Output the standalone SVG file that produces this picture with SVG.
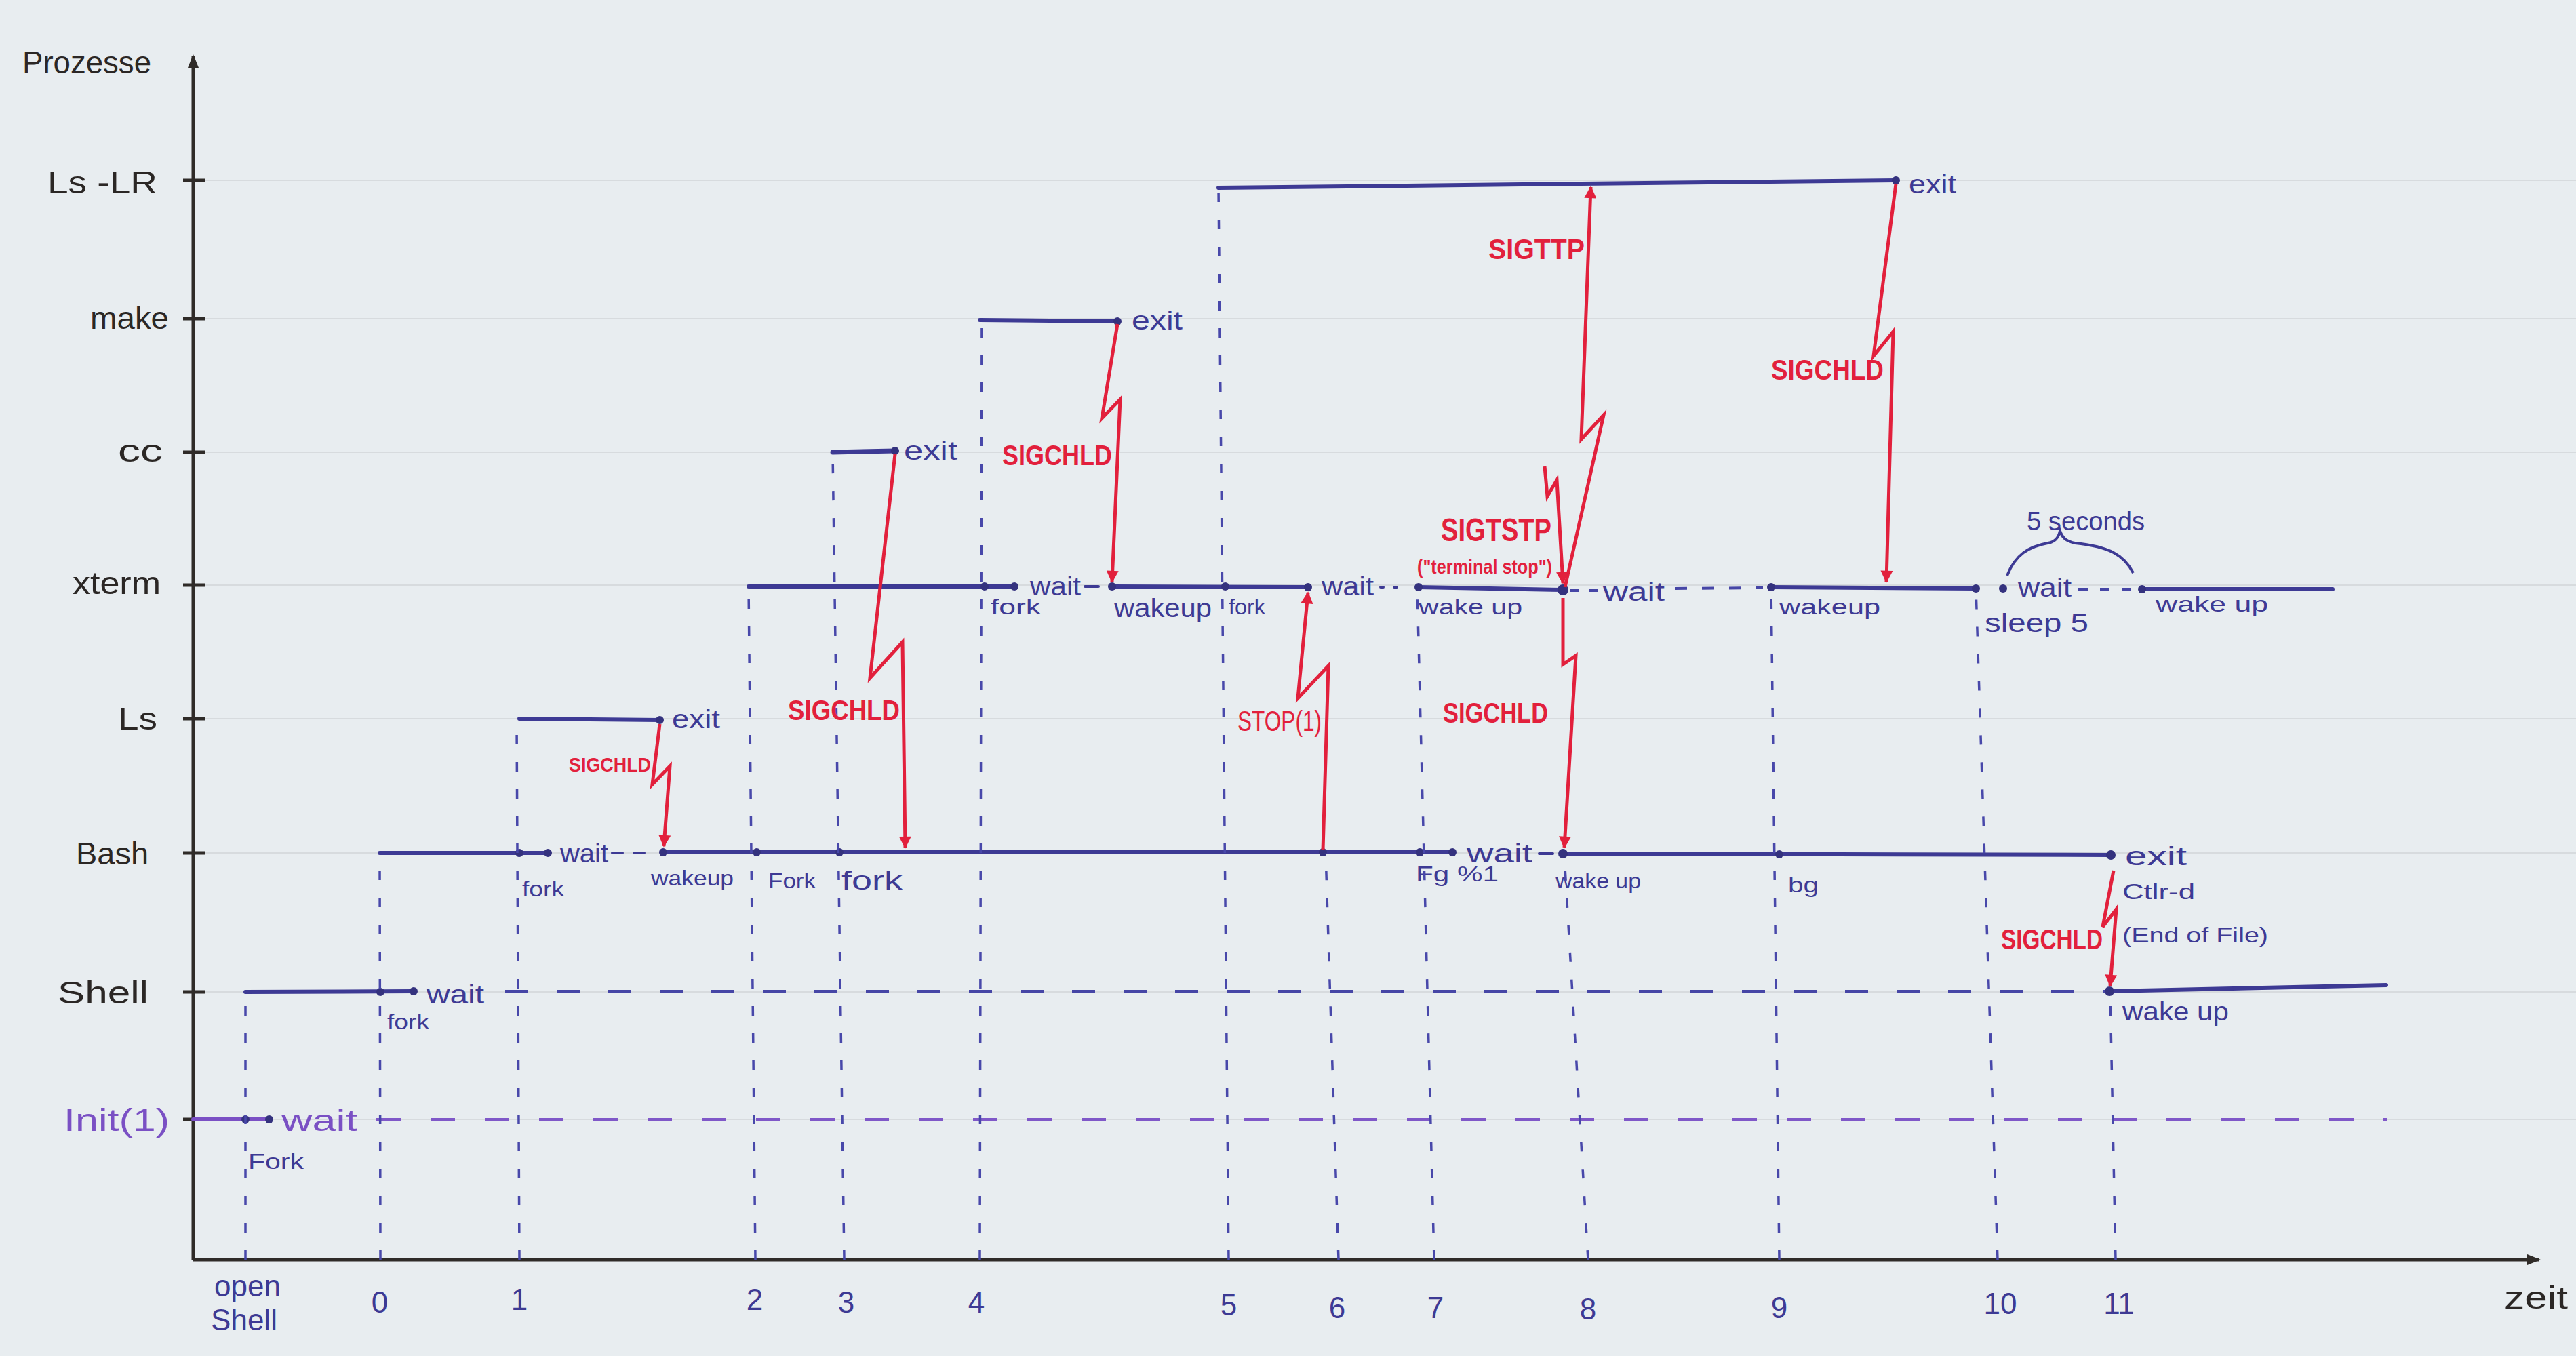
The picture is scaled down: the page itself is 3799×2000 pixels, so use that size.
<svg xmlns="http://www.w3.org/2000/svg" width="3799" height="2000" viewBox="0 0 3799 2000">
<defs>
<style>
.bg{fill:#e8edf0}
.rule{stroke:#d7dbde;stroke-width:2}
.ax{stroke:#2f2b28;stroke-width:5;fill:none}
.tk{stroke:#2f2b28;stroke-width:5}
.p{stroke:#3d3a94;stroke-width:6;fill:none;stroke-linecap:round}
.pd{stroke:#4646a6;stroke-width:4;fill:none;stroke-dasharray:34 42}
.ip{stroke:#7a50c4;stroke-width:6;fill:none;stroke-linecap:round}
.ipd{stroke:#7f58c8;stroke-width:4;fill:none;stroke-dasharray:36 44}
.v{stroke:#4848aa;stroke-width:3.5;fill:none;stroke-dasharray:14 26}
.sig{stroke:#e2203c;stroke-width:5;fill:none;stroke-linejoin:miter}
.dot{fill:#34327e}
text{font-family:"Liberation Sans","DejaVu Sans",sans-serif}
.yl{font-size:46px;fill:#2b2725}
.tl{font-size:44px;fill:#3d3a94}
.bl{font-size:38px;fill:#3d3a94}
.bs{font-size:32px;fill:#3d3a94}
.rd{font-size:42px;fill:#e2203c;font-weight:bold}
.rs{font-size:30px;fill:#e2203c;font-weight:bold}
.pu{fill:#7a50c4}
</style>
<marker id="ah" viewBox="0 0 10 10" refX="9" refY="5" markerWidth="24" markerHeight="18" markerUnits="userSpaceOnUse" orient="auto"><path d="M0,0 L10,5 L0,10 z" fill="#e2203c"/></marker>
<marker id="axa" viewBox="0 0 10 10" refX="9" refY="5" markerWidth="28" markerHeight="20" markerUnits="userSpaceOnUse" orient="auto"><path d="M0,1 L10,5 L0,9 z" fill="#2f2b28"/></marker>
</defs>
<rect class="bg" x="0" y="0" width="3799" height="2000"/>
<g id="paper-rules">
<line class="rule" x1="300" y1="266" x2="3799" y2="266"/>
<line class="rule" x1="300" y1="470" x2="3799" y2="470"/>
<line class="rule" x1="300" y1="667" x2="3799" y2="667"/>
<line class="rule" x1="300" y1="863" x2="3799" y2="863"/>
<line class="rule" x1="300" y1="1060" x2="3799" y2="1060"/>
<line class="rule" x1="300" y1="1258" x2="3799" y2="1258"/>
<line class="rule" x1="300" y1="1463" x2="3799" y2="1463"/>
<line class="rule" x1="300" y1="1651" x2="3799" y2="1651"/>
</g>
<g id="axes">
<line class="ax" x1="285" y1="1858" x2="285" y2="82" marker-end="url(#axa)"/>
<line class="ax" x1="285" y1="1858" x2="3745" y2="1858" marker-end="url(#axa)"/>
<line class="tk" x1="270" y1="266" x2="302" y2="266"/>
<line class="tk" x1="270" y1="470" x2="302" y2="470"/>
<line class="tk" x1="270" y1="667" x2="302" y2="667"/>
<line class="tk" x1="270" y1="863" x2="302" y2="863"/>
<line class="tk" x1="270" y1="1060" x2="302" y2="1060"/>
<line class="tk" x1="270" y1="1258" x2="302" y2="1258"/>
<line class="tk" x1="270" y1="1463" x2="302" y2="1463"/>
<line class="tk" x1="270" y1="1651" x2="302" y2="1651"/>
<text class="yl" x="33" y="108" textLength="190" lengthAdjust="spacingAndGlyphs">Prozesse</text>
<text class="yl" x="3693" y="1930" textLength="94" lengthAdjust="spacingAndGlyphs">zeit</text>
<text class="tl" x="365" y="1912" text-anchor="middle">open</text>
<text class="tl" x="360" y="1962" text-anchor="middle">Shell</text>
<text class="tl" x="560" y="1936" text-anchor="middle">0</text>
<text class="tl" x="766" y="1932" text-anchor="middle">1</text>
<text class="tl" x="1113" y="1932" text-anchor="middle">2</text>
<text class="tl" x="1248" y="1936" text-anchor="middle">3</text>
<text class="tl" x="1440" y="1936" text-anchor="middle">4</text>
<text class="tl" x="1812" y="1940" text-anchor="middle">5</text>
<text class="tl" x="1972" y="1944" text-anchor="middle">6</text>
<text class="tl" x="2117" y="1944" text-anchor="middle">7</text>
<text class="tl" x="2342" y="1946" text-anchor="middle">8</text>
<text class="tl" x="2624" y="1944" text-anchor="middle">9</text>
<text class="tl" x="2950" y="1938" text-anchor="middle">10</text>
<text class="tl" x="3125" y="1938" text-anchor="middle">11</text>
</g>
<g id="node-init">
<text class="yl pu" x="94" y="1668" textLength="156" lengthAdjust="spacingAndGlyphs">Init(1)</text>
<line class="ip" x1="285" y1="1651" x2="397" y2="1651"/>
<line class="ipd" x1="555" y1="1651" x2="3520" y2="1651"/>
<circle class="dot" cx="362" cy="1651" r="6"/>
<circle class="dot" cx="397" cy="1651" r="6"/>
<text class="tl pu" x="415" y="1668" textLength="112" lengthAdjust="spacingAndGlyphs">wait</text>
<text class="bs" x="366" y="1724" textLength="82" lengthAdjust="spacingAndGlyphs">Fork</text>
</g>
<g id="node-shell">
<text class="yl" x="85" y="1480" textLength="134" lengthAdjust="spacingAndGlyphs">Shell</text>
<line class="p" x1="362" y1="1463" x2="610" y2="1462"/>
<line class="pd" x1="745" y1="1462" x2="3105" y2="1462"/>
<line class="p" x1="3111" y1="1462" x2="3519" y2="1453"/>
<circle class="dot" cx="561" cy="1463" r="6"/>
<circle class="dot" cx="610" cy="1462" r="6"/>
<circle class="dot" cx="3111" cy="1462" r="7"/>
<text class="bl" x="629" y="1480" textLength="85" lengthAdjust="spacingAndGlyphs">wait</text>
<text class="bs" x="571" y="1518" textLength="62" lengthAdjust="spacingAndGlyphs">fork</text>
<text class="bl" x="3130" y="1505" textLength="157" lengthAdjust="spacingAndGlyphs">wake up</text>
</g>
<g id="node-bash">
<text class="yl" x="112" y="1275" textLength="107" lengthAdjust="spacingAndGlyphs">Bash</text>
<line class="p" x1="560" y1="1258" x2="808" y2="1258"/>
<line class="p" x1="903" y1="1258" x2="918" y2="1258" style="stroke-width:4"/>
<line class="p" x1="935" y1="1258" x2="950" y2="1258" style="stroke-width:4"/>
<line class="p" x1="978" y1="1257" x2="2142" y2="1257"/>
<line class="p" x1="2270" y1="1259" x2="2290" y2="1259" style="stroke-width:4"/>
<line class="p" x1="2305" y1="1259" x2="3113" y2="1261"/>
<circle class="dot" cx="766" cy="1258" r="6"/>
<circle class="dot" cx="808" cy="1258" r="6"/>
<circle class="dot" cx="978" cy="1257" r="6"/>
<circle class="dot" cx="1116" cy="1257" r="6"/>
<circle class="dot" cx="1238" cy="1257" r="6"/>
<circle class="dot" cx="1951" cy="1257" r="6"/>
<circle class="dot" cx="2094" cy="1257" r="6"/>
<circle class="dot" cx="2142" cy="1257" r="6"/>
<circle class="dot" cx="2305" cy="1259" r="7"/>
<circle class="dot" cx="2624" cy="1260" r="6"/>
<circle class="dot" cx="3113" cy="1261" r="7"/>
<text class="bl" x="826" y="1272" textLength="71" lengthAdjust="spacingAndGlyphs">wait</text>
<text class="bs" x="770" y="1322" textLength="62" lengthAdjust="spacingAndGlyphs">fork</text>
<text class="bs" x="960" y="1306" textLength="122" lengthAdjust="spacingAndGlyphs">wakeup</text>
<text class="bs" x="1133" y="1310" textLength="70" lengthAdjust="spacingAndGlyphs">Fork</text>
<text class="bl" x="1241" y="1312" textLength="90" lengthAdjust="spacingAndGlyphs">fork</text>
<text class="bl" x="2163" y="1272" textLength="97" lengthAdjust="spacingAndGlyphs">wait</text>
<text class="bs" x="2088" y="1300" textLength="122" lengthAdjust="spacingAndGlyphs">Fg %1</text>
<text class="bs" x="2294" y="1310" textLength="126" lengthAdjust="spacingAndGlyphs">wake up</text>
<text class="bs" x="2637" y="1316" textLength="45" lengthAdjust="spacingAndGlyphs">bg</text>
<text class="bl" x="3134" y="1276" textLength="91" lengthAdjust="spacingAndGlyphs">exit</text>
<text class="bs" x="3130" y="1326" textLength="107" lengthAdjust="spacingAndGlyphs">Ctlr-d</text>
<text class="bs" x="3130" y="1390" textLength="215" lengthAdjust="spacingAndGlyphs">(End of File)</text>
</g>
<g id="node-ls">
<text class="yl" x="174" y="1076" textLength="58" lengthAdjust="spacingAndGlyphs">Ls</text>
<line class="p" x1="766" y1="1060" x2="973" y2="1062"/>
<circle class="dot" cx="973" cy="1062" r="6"/>
<text class="bl" x="991" y="1074" textLength="71" lengthAdjust="spacingAndGlyphs">exit</text>
</g>
<g id="node-xterm">
<text class="yl" x="107" y="876" textLength="130" lengthAdjust="spacingAndGlyphs">xterm</text>
<line class="p" x1="1104" y1="865" x2="1496" y2="865"/>
<line class="p" x1="1600" y1="865" x2="1620" y2="865" style="stroke-width:4"/>
<line class="p" x1="1640" y1="865" x2="1929" y2="866"/>
<line class="p" x1="2036" y1="866" x2="2040" y2="866" style="stroke-width:4"/>
<line class="p" x1="2056" y1="866" x2="2060" y2="866" style="stroke-width:4"/>
<line class="p" x1="2092" y1="866" x2="2305" y2="870"/>
<line class="pd" x1="2315" y1="871" x2="2360" y2="871" style="stroke-dasharray:14 14"/>
<line class="pd" x1="2470" y1="868" x2="2600" y2="867" style="stroke-dasharray:18 22"/>
<line class="p" x1="2612" y1="866" x2="2914" y2="868"/>
<line class="pd" x1="3065" y1="869" x2="3150" y2="869" style="stroke-dasharray:14 18"/>
<line class="p" x1="3159" y1="869" x2="3440" y2="869"/>
<circle class="dot" cx="1452" cy="865" r="6"/>
<circle class="dot" cx="1496" cy="865" r="6"/>
<circle class="dot" cx="1640" cy="865" r="6"/>
<circle class="dot" cx="1807" cy="865" r="6"/>
<circle class="dot" cx="1929" cy="866" r="6"/>
<circle class="dot" cx="2092" cy="866" r="6"/>
<circle class="dot" cx="2305" cy="870" r="8"/>
<circle class="dot" cx="2612" cy="866" r="6"/>
<circle class="dot" cx="2914" cy="868" r="6"/>
<circle class="dot" cx="2954" cy="868" r="6"/>
<circle class="dot" cx="3159" cy="869" r="6"/>
<text class="bl" x="1519" y="878" textLength="75" lengthAdjust="spacingAndGlyphs">wait</text>
<text class="bs" x="1461" y="906" textLength="74" lengthAdjust="spacingAndGlyphs">fork</text>
<text class="bl" x="1643" y="910" textLength="144" lengthAdjust="spacingAndGlyphs">wakeup</text>
<text class="bs" x="1812" y="906" textLength="54" lengthAdjust="spacingAndGlyphs">fork</text>
<text class="bl" x="1949" y="878" textLength="77" lengthAdjust="spacingAndGlyphs">wait</text>
<text class="bs" x="2092" y="906" textLength="153" lengthAdjust="spacingAndGlyphs">wake up</text>
<text class="bl" x="2364" y="886" textLength="91" lengthAdjust="spacingAndGlyphs">wait</text>
<text class="bs" x="2624" y="906" textLength="149" lengthAdjust="spacingAndGlyphs">wakeup</text>
<text class="bl" x="2976" y="880" textLength="79" lengthAdjust="spacingAndGlyphs">wait</text>
<text class="bl" x="2927" y="932" textLength="153" lengthAdjust="spacingAndGlyphs">sleep 5</text>
<text class="bs" x="3179" y="902" textLength="166" lengthAdjust="spacingAndGlyphs">wake up</text>
<path d="M2960,849 C2972,818 2992,806 3020,801 C3032,799 3036,792 3038,783 C3041,792 3046,798 3060,801 C3110,806 3132,818 3146,845" stroke="#3d3a94" stroke-width="4" fill="none"/>
<text class="bl" x="2989" y="782" textLength="174" lengthAdjust="spacingAndGlyphs">5 seconds</text>
</g>
<g id="node-cc">
<text class="yl" x="174" y="681" textLength="66" lengthAdjust="spacingAndGlyphs">cc</text>
<line class="p" x1="1228" y1="667" x2="1320" y2="665" style="stroke-width:7"/>
<circle class="dot" cx="1320" cy="665" r="6"/>
<text class="bl" x="1333" y="678" textLength="79" lengthAdjust="spacingAndGlyphs">exit</text>
</g>
<g id="node-make">
<text class="yl" x="133" y="485" textLength="116" lengthAdjust="spacingAndGlyphs">make</text>
<line class="p" x1="1445" y1="472" x2="1648" y2="474"/>
<circle class="dot" cx="1648" cy="474" r="6"/>
<text class="bl" x="1669" y="486" textLength="75" lengthAdjust="spacingAndGlyphs">exit</text>
</g>
<g id="node-lslr">
<text class="yl" x="70" y="285" textLength="162" lengthAdjust="spacingAndGlyphs">Ls -LR</text>
<line class="p" x1="1797" y1="277" x2="2796" y2="266"/>
<circle class="dot" cx="2796" cy="266" r="6"/>
<text class="bl" x="2815" y="285" textLength="70" lengthAdjust="spacingAndGlyphs">exit</text>
</g>
<g id="connectors">
<g id="forks">
<line class="v" x1="362" y1="1858" x2="362" y2="1463"/>
<line class="v" x1="561" y1="1858" x2="560" y2="1258"/>
<line class="v" x1="766" y1="1858" x2="762" y2="1060"/>
<line class="v" x1="1114" y1="1858" x2="1104" y2="865"/>
<line class="v" x1="1245" y1="1858" x2="1228" y2="667"/>
<line class="v" x1="1445" y1="1858" x2="1448" y2="472"/>
<line class="v" x1="1812" y1="1858" x2="1797" y2="277"/>
<line class="v" x1="1974" y1="1858" x2="1955" y2="1258"/>
<line class="v" x1="2115" y1="1858" x2="2090" y2="866"/>
<line class="v" x1="2342" y1="1858" x2="2307" y2="1262"/>
<line class="v" x1="2624" y1="1858" x2="2612" y2="866"/>
<line class="v" x1="2946" y1="1858" x2="2914" y2="868"/>
<line class="v" x1="3120" y1="1858" x2="3112" y2="1462"/>
</g>
<g id="signals">
<path class="sig" d="M973,1068 L962,1157 L988,1130 L979,1248" marker-end="url(#ah)"/>
<text class="rs" x="839" y="1138" textLength="121" lengthAdjust="spacingAndGlyphs">SIGCHLD</text>
<path class="sig" d="M1320,670 L1283,1000 L1331,947 L1335,1250" marker-end="url(#ah)"/>
<text class="rd" x="1162" y="1062" textLength="165" lengthAdjust="spacingAndGlyphs">SIGCHLD</text>
<path class="sig" d="M1648,478 L1625,617 L1652,589 L1640,858" marker-end="url(#ah)"/>
<text class="rd" x="1478" y="686" textLength="162" lengthAdjust="spacingAndGlyphs">SIGCHLD</text>
<path class="sig" d="M1951,1254 L1959,982 L1914,1030 L1929,874" marker-end="url(#ah)"/>
<text class="rd" x="1825" y="1078" textLength="124" lengthAdjust="spacingAndGlyphs" style="font-weight:normal">STOP(1)</text>
<path class="sig" d="M2796,271 L2763,525 L2792,489 L2782,858" marker-end="url(#ah)"/>
<text class="rd" x="2612" y="560" textLength="166" lengthAdjust="spacingAndGlyphs">SIGCHLD</text>
<path class="sig" d="M2308,866 L2365,612 L2332,648 L2346,276" marker-end="url(#ah)"/>
<text class="rd" x="2195" y="382" textLength="142" lengthAdjust="spacingAndGlyphs">SIGTTP</text>
<path class="sig" d="M2278,688 L2282,732 L2296,708 L2305,860" marker-end="url(#ah)"/>
<text class="rd" x="2125" y="798" textLength="163" lengthAdjust="spacingAndGlyphs" style="font-size:48px">SIGTSTP</text>
<text class="rs" x="2090" y="846" textLength="199" lengthAdjust="spacingAndGlyphs">("terminal stop")</text>
<path class="sig" d="M2305,882 L2305,980 L2324,967 L2307,1250" marker-end="url(#ah)"/>
<text class="rd" x="2128" y="1066" textLength="155" lengthAdjust="spacingAndGlyphs">SIGCHLD</text>
<path class="sig" d="M3117,1284 L3101,1367 L3121,1341 L3112,1454" marker-end="url(#ah)"/>
<text class="rd" x="2951" y="1400" textLength="150" lengthAdjust="spacingAndGlyphs">SIGCHLD</text>
</g>
</g>
</svg>
